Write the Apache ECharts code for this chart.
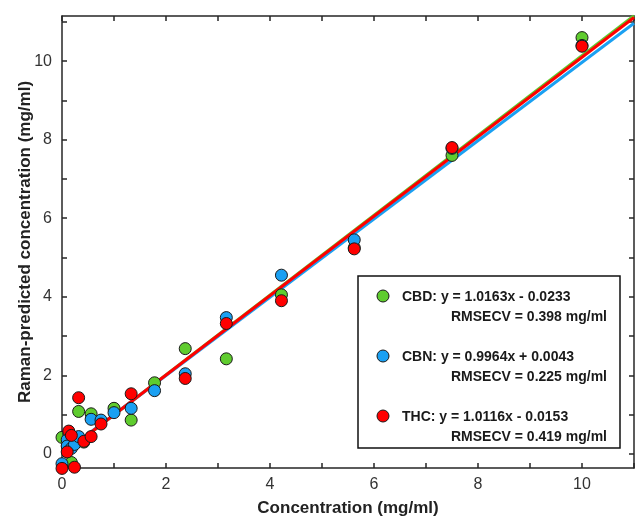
<!DOCTYPE html>
<html>
<head>
<meta charset="utf-8">
<style>
  html, body { margin: 0; padding: 0; background: #fff; }
  #chart { width: 637px; height: 523px; }
</style>
<script src="https://cdn.jsdelivr.net/npm/echarts@6/dist/echarts.min.js"></script>
</head>
<body>
<div id="chart"></div>
<script>
// data ------------------------------------------------------------------
var compounds = ['CBD', 'CBN', 'THC'];
var colors = ['#5fcc2e', '#1aa0f2', '#ff0000'];
var slopes = [1.0163, 0.9964, 1.0116];
var intercepts = [-0.0233, 0.0043, -0.0153];
var equations = ['CBD: y = 1.0163x - 0.0233', 'CBN: y = 0.9964x + 0.0043', 'THC: y = 1.0116x - 0.0153'];
var rmsecv = ['RMSECV = 0.398 mg/ml', 'RMSECV = 0.225 mg/ml', 'RMSECV = 0.419 mg/ml'];

// [concentration, predicted]
var cbdPoints = [[0, 0.42], [0.13, 0.5], [0.18, -0.22], [0.32, 1.08], [0.42, 0.3], [0.56, 1.02],
  [1.0, 1.16], [1.33, 0.86], [1.78, 1.81], [2.37, 2.68], [3.16, 2.42], [4.22, 4.05],
  [5.62, 5.25], [7.5, 7.6], [10, 10.6]];
var cbnPoints = [[0, -0.25], [0.1, 0.36], [0.1, 0.2], [0.18, 0.14], [0.24, 0.24], [0.32, 0.44],
  [0.56, 0.88], [0.75, 0.86], [1.0, 1.05], [1.33, 1.16], [1.78, 1.61], [2.37, 2.04],
  [3.16, 3.47], [4.22, 4.55], [5.62, 5.45], [7.5, 7.78], [10, 10.4]];
var thcPoints = [[0, -0.37], [0.1, 0.05], [0.13, 0.58], [0.18, 0.47], [0.24, -0.34], [0.32, 1.43],
  [0.42, 0.32], [0.56, 0.44], [0.75, 0.76], [1.33, 1.53], [2.37, 1.92], [3.16, 3.32],
  [4.22, 3.9], [5.62, 5.22], [7.5, 7.8], [10, 10.38]];
var allPoints = [cbdPoints, cbnPoints, thcPoints];

var xMin = 0, xMax = 11;
var yMin = -0.36, yMax = 11.15;
var tickValues = [0, 1, 2, 3, 4, 5, 6, 7, 8, 9, 10, 11];
var labelValues = [0, 2, 4, 6, 8, 10];

var chart = echarts.init(document.getElementById('chart'));

var axisColor = '#262626';
var fontFamily = '"Liberation Sans", Arial, Helvetica, sans-serif';

function makeAxis(pos, isX, showLabel) {
  var ax = {
    type: 'value',
    position: pos,
    min: isX ? xMin : yMin,
    max: isX ? xMax : yMax,
    axisLine: { show: true, onZero: false, lineStyle: { color: axisColor, width: 1.5 } },
    axisTick: { show: true, inside: true, length: 5, customValues: tickValues,
      lineStyle: { color: axisColor, width: 1.5 } },
    axisLabel: { show: showLabel, customValues: labelValues, fontSize: 16, color: '#333',
      fontFamily: fontFamily, margin: isX ? 9 : 10 },
    splitLine: { show: false }
  };
  return ax;
}

var xBottom = makeAxis('bottom', true, true);
xBottom.name = 'Concentration (mg/ml)';
xBottom.nameLocation = 'middle';
xBottom.nameGap = 32;
xBottom.nameTextStyle = { fontSize: 17, fontWeight: 'bold', color: '#222', fontFamily: fontFamily };

var yLeft = makeAxis('left', false, true);
yLeft.name = 'Raman-predicted concentration (mg/ml)';
yLeft.nameLocation = 'middle';
yLeft.nameGap = 28;
yLeft.nameMoveOverlap = false;
yLeft.nameTextStyle = { fontSize: 17, fontWeight: 'bold', color: '#222', fontFamily: fontFamily };

var series = [];
// fit lines
compounds.forEach(function (name, i) {
  series.push({
    type: 'line',
    name: name + ' fit',
    xAxisIndex: 0, yAxisIndex: 0,
    symbol: 'none',
    silent: true,
    lineStyle: { color: colors[i], width: 3 },
    data: [[xMin, slopes[i] * xMin + intercepts[i]], [xMax, slopes[i] * xMax + intercepts[i]]],
    z: 2
  });
});
// points
compounds.forEach(function (name, i) {
  series.push({
    type: 'scatter',
    name: name,
    xAxisIndex: 0, yAxisIndex: 0,
    symbolSize: 12,
    clip: false,
    itemStyle: { color: colors[i], borderColor: '#1a1a1a', borderWidth: 1, opacity: 1 },
    data: allPoints[i],
    z: 3
  });
});

// legend box
var legendEls = [{
  type: 'rect',
  shape: { x: 358, y: 276, width: 262, height: 172 },
  style: { fill: '#fff', stroke: '#111', lineWidth: 1.5 },
  z: 10
}];
compounds.forEach(function (name, i) {
  var cy = 296 + 60 * i;
  legendEls.push({
    type: 'circle', shape: { cx: 383, cy: cy, r: 6 },
    style: { fill: colors[i], stroke: '#1a1a1a', lineWidth: 1 }, z: 11
  });
  legendEls.push({
    type: 'text', x: 402, y: cy + 1,
    style: { text: equations[i], fill: '#1a1a1a', font: 'bold 14px ' + fontFamily,
      textVerticalAlign: 'middle', verticalAlign: 'middle' }, z: 11
  });
  legendEls.push({
    type: 'text', x: 607, y: cy + 21,
    style: { text: rmsecv[i], fill: '#1a1a1a', font: 'bold 14px ' + fontFamily,
      align: 'right', textAlign: 'right', verticalAlign: 'middle', textVerticalAlign: 'middle' }, z: 11
  });
});

chart.setOption({
  backgroundColor: '#fff',
  animation: false,
  grid: { left: 62, right: 3, top: 16, bottom: 55, containLabel: false },
  xAxis: [xBottom, makeAxis('top', true, false)],
  yAxis: [yLeft, makeAxis('right', false, false)],
  series: series,
  graphic: legendEls
});
</script>
</body>
</html>
